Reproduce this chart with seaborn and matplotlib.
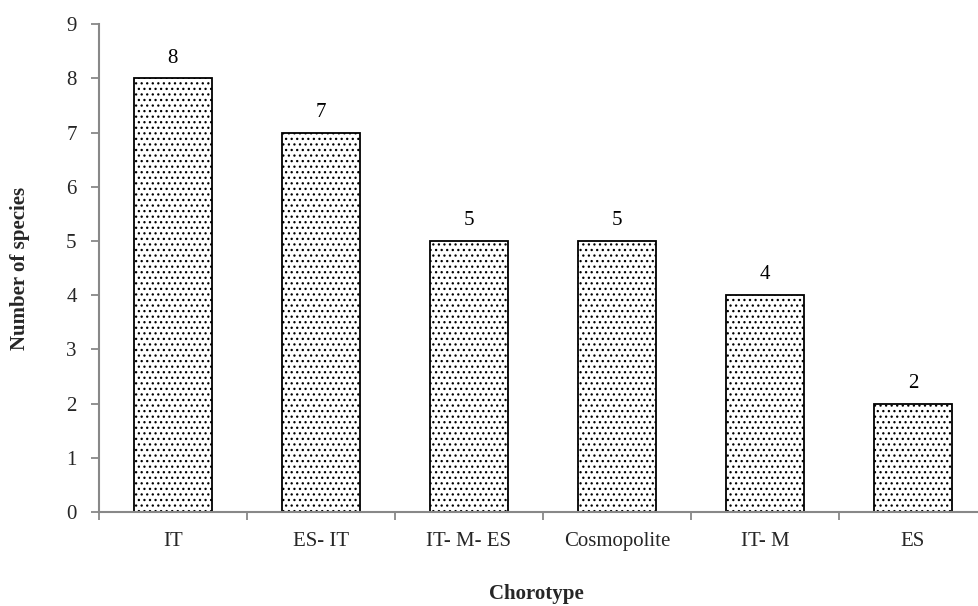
import matplotlib
matplotlib.use("Agg")
import matplotlib.pyplot as plt
import seaborn as sns
import pandas as pd
import numpy as np

categories = ["IT", "ES- IT", "IT- M- ES", "Cosmopolite", "IT- M", "ES"]
species_counts = [8, 7, 5, 5, 4, 2]
y_ticks = list(range(0, 10))

sns.set_theme(style="white")
plt.rcParams["font.family"] = ["Liberation Serif", "DejaVu Serif"]
plt.rcParams["hatch.color"] = "#555555"
plt.rcParams["hatch.linewidth"] = 0.9

df = pd.DataFrame({"Chorotype": categories, "Species": species_counts})

fig = plt.figure(figsize=(9.79, 6.06), dpi=100)
ax = fig.add_axes([0.101, 0.155, 0.907, 0.805])

sns.barplot(data=df, x="Chorotype", y="Species", ax=ax, color="white",
            width=0.53, edgecolor="black", linewidth=1.3, hatch="...",
            saturation=1)

for i, v in enumerate(species_counts):
    ax.text(i, v + 0.2, str(v), ha="center", va="bottom", fontsize=15, color="black")

ax.set_ylim(0, 9)
ax.set_yticks(y_ticks)
ax.set_xlim(-0.5, len(categories) - 0.5)
ax.set_xticks(range(len(categories)))
ax.set_xticklabels(categories, fontsize=15)
ax.set_xticks(np.arange(-0.5, len(categories) - 1), minor=True)
ax.tick_params(axis="x", which="major", bottom=True, length=0, pad=14)
ax.tick_params(axis="x", which="minor", bottom=True, length=6, color="#888888",
               width=1.3, direction="out")
ax.tick_params(axis="y", left=True, length=6, color="#888888", width=1.3,
               direction="out", labelsize=15, pad=10)

for side in ["top", "right"]:
    ax.spines[side].set_visible(False)
for side in ["left", "bottom"]:
    ax.spines[side].set_color("#888888")
    ax.spines[side].set_linewidth(1.5)

ax.set_xlabel("Chorotype", fontsize=15, fontweight="bold")
ax.xaxis.set_label_coords(0.493, -0.148)
ax.set_ylabel("Number of species", fontsize=15, fontweight="bold", labelpad=26)

fig.savefig("out.png", dpi=100, facecolor="white")
